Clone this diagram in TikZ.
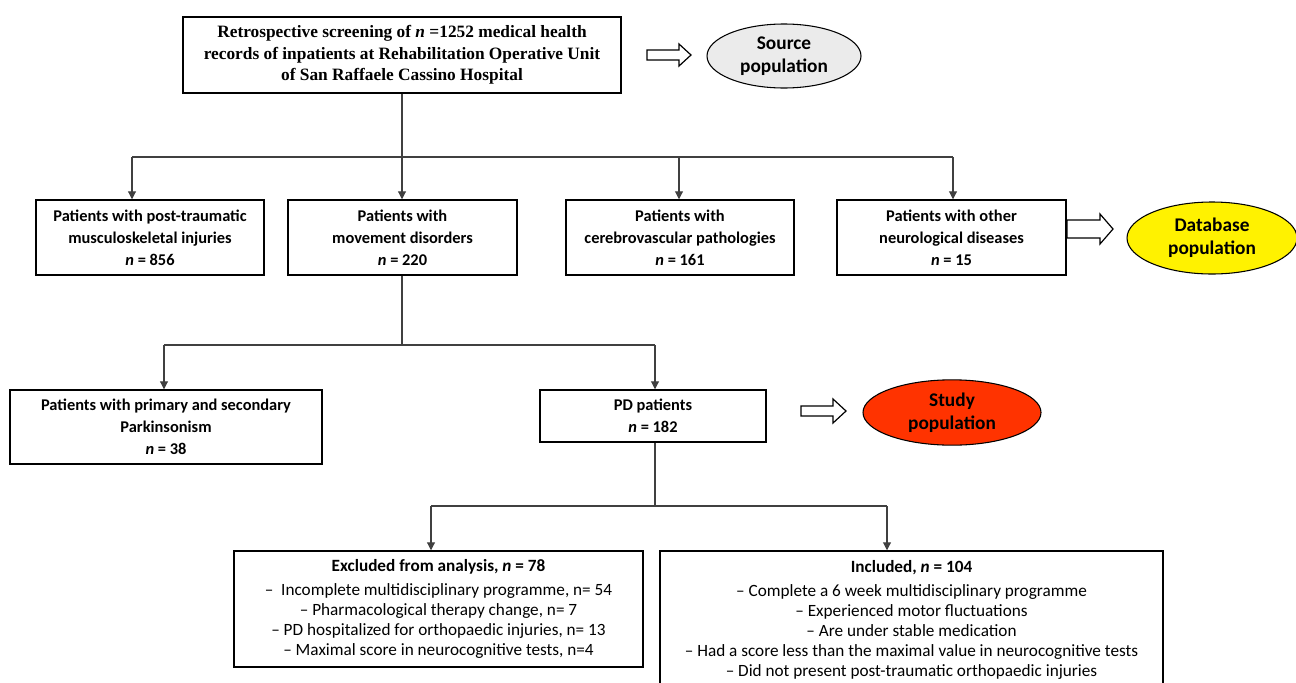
\documentclass[tikz,border=0pt]{standalone}
\usepackage{fontspec}
\setmainfont{Carlito}
\newfontfamily\timesf{Liberation Serif}
\usetikzlibrary{arrows.meta,shapes.geometric}
\begin{document}
\begin{tikzpicture}[x=0.75pt,y=-0.75pt,
  box/.style={draw,line width=1.1pt,align=center,inner sep=0pt,font=\bfseries\fontsize{12.3}{16.5}\selectfont},
  listbox/.style={box,font=\fontsize{12.9}{15}\selectfont},
  conn/.style={draw=black!75,line width=0.8pt},
  arr/.style={conn,-{Triangle[length=6pt,width=6pt]}},
  pop/.style={ellipse,draw,line width=0.8pt,align=center,inner sep=0pt,font=\bfseries\fontsize{14.5}{17.25}\selectfont},
  barrow/.style={draw,line width=0.9pt,fill=white}]
\useasboundingbox (0,0) rectangle (1296,682);

% top
\node[box,minimum width=328.5pt,minimum height=57pt,font=\timesf\bfseries\fontsize{13}{16.3}\selectfont] (top) at (402,55)
  {Retrospective screening of \textit{n} =1252 medical health\\records of inpatients at Rehabilitation Operative Unit\\of San Raffaele Cassino Hospital};
\node[pop,fill=black!8,minimum width=115.5pt,minimum height=48pt] (src) at (784,56) {Source\\population};
\draw[barrow,shift={(647,55)}] (0,-5) -- (32,-5) -- (32,-11) -- (44,0) -- (32,11) -- (32,5) -- (0,5) -- cycle;

% row 1
\node[box,minimum width=171pt,minimum height=56.25pt] (A) at (150,237.5) {Patients with post-traumatic\\musculoskeletal injuries\\\textit{n} = 856};
\node[box,minimum width=171.75pt,minimum height=56.25pt] (B) at (402.5,237.5) {Patients with\\movement disorders\\\textit{n} = 220};
\node[box,minimum width=171pt,minimum height=56.25pt] (C) at (680,237.5) {Patients with\\cerebrovascular pathologies\\\textit{n} = 161};
\node[box,minimum width=171.75pt,minimum height=56.25pt] (D) at (951.5,237.5) {Patients with other\\neurological diseases\\\textit{n} = 15};
\draw[barrow,shift={(1067,229)}] (0,-9) -- (33,-9) -- (33,-15) -- (46,0) -- (33,15) -- (33,9) -- (0,9) -- cycle;
\node[pop,fill=yellow,minimum width=127.5pt,minimum height=54pt] (db) at (1212,238) {Database\\population};

\coordinate (j1) at (402,157);
\coordinate (b1L) at (132,157);
\coordinate (b1R) at (953,157);
\draw[conn] (top.south -| j1) -- (j1);
\draw[conn] (b1L) -- (b1R);
\draw[arr] (b1L) -- (b1L |- A.north);
\draw[arr] (j1) -- (j1 |- B.north);
\coordinate (b1C) at (679,157);
\draw[arr] (b1C) -- (b1C |- C.north);
\draw[arr] (b1R) -- (b1R |- D.north);

% row 2
\node[box,minimum width=234pt,minimum height=55.5pt] (E) at (166,427) {Patients with primary and secondary\\Parkinsonism\\\textit{n} = 38};
\node[box,minimum width=169.5pt,minimum height=39pt] (F) at (653,416) {PD patients\\\textit{n} = 182};
\draw[barrow,shift={(801,411)}] (0,-5) -- (32,-5) -- (32,-12) -- (45,0) -- (32,12) -- (32,5) -- (0,5) -- cycle;
\node[pop,fill={rgb,255:red,255;green,51;blue,0},minimum width=133.5pt,minimum height=49pt] (study) at (952,412.5) {Study\\population};

\coordinate (j2) at (402,345);
\coordinate (b2L) at (164,345);
\coordinate (b2R) at (655,345);
\draw[conn] (B.south -| j2) -- (j2);
\draw[conn] (b2L) -- (b2R);
\draw[arr] (b2L) -- (b2L |- E.north);
\draw[arr] (b2R) -- (b2R |- F.north);

% row 3
\node[listbox,minimum width=306.75pt,minimum height=87pt] (G) at (438.5,609)
  {\textbf{Excluded from analysis, \textit{n} = 78}\\[3pt]
   –\ \ Incomplete multidisciplinary programme, n= 54\\
   – Pharmacological therapy change, n= 7\\
   – PD hospitalized for orthopaedic injuries, n= 13\\
   – Maximal score in neurocognitive tests, n=4};
\node[listbox,minimum width=377.25pt,minimum height=103.5pt] (H) at (911.5,620)
  {\textbf{Included, \textit{n} = 104}\\[3pt]
   – Complete a 6 week multidisciplinary programme\\
   – Experienced motor fluctuations\\
   – Are under stable medication\\
   – Had a score less than the maximal value in neurocognitive tests\\
   – Did not present post-traumatic orthopaedic injuries};

\coordinate (j3) at (655,506);
\coordinate (b3L) at (431,506);
\coordinate (b3R) at (887,506);
\draw[conn] (F.south -| j3) -- (j3);
\draw[conn] (b3L) -- (b3R);
\draw[arr] (b3L) -- (b3L |- G.north);
\draw[arr] (b3R) -- (b3R |- H.north);
\end{tikzpicture}
\end{document}
